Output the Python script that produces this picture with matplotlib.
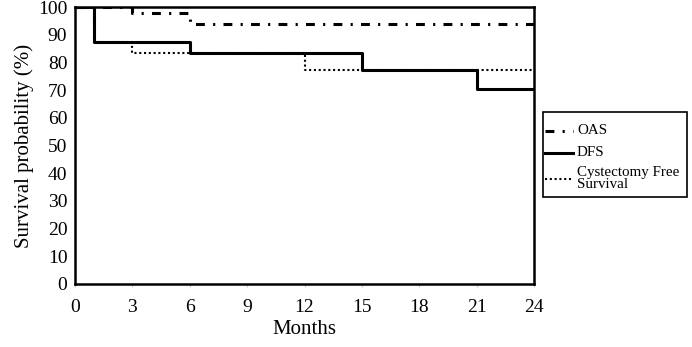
import numpy as np
import matplotlib
matplotlib.use("Agg")
from matplotlib import pyplot as plt
from matplotlib.lines import Line2D
from matplotlib.patches import Rectangle

# survival curves (months, % surviving)
oas_t = [0, 3, 6, 24]
oas_s = [100, 97.8, 93.9, 93.9]

dfs_t = [0, 1, 6, 15, 21, 24]
dfs_s = [100, 87.5, 83.5, 77.3, 70.5, 70.5]

cfs_t = [0, 1, 3, 12, 24]
cfs_s = [100, 87.5, 83.5, 77.3, 77.3]

xticks = [0, 3, 6, 9, 12, 15, 18, 21, 24]
yticks = [0, 10, 20, 30, 40, 50, 60, 70, 80, 90, 100]

labels = ['OAS', 'DFS', 'Cystectomy Free\nSurvival']

plt.rcParams['font.family'] = ['Liberation Serif', 'DejaVu Serif']

W, H = 692, 347
fig = plt.figure(figsize=(W / 100, H / 100), dpi=100)
ax = fig.add_axes([75 / W, 1 - 284 / H, (534 - 75) / W, (284 - 7) / H])

oas_style = dict(color='black', lw=2.2, dashes=(2.9, 2.7, 0.7, 2.7))
dfs_style = dict(color='black', lw=2.2)
cfs_style = dict(color='black', lw=1.5, dashes=(1, 1.3))

ax.step(oas_t, oas_s, where='post', **oas_style)
ax.step(dfs_t, dfs_s, where='post', **dfs_style)
ax.step(cfs_t, cfs_s, where='post', **cfs_style)

ax.set_xlim(0, 24)
ax.set_ylim(0, 100)
ax.set_xticks(xticks)
ax.set_yticks(yticks)
ax.tick_params(axis='y', labelsize=14, length=0, pad=5.5)
ax.tick_params(axis='x', labelsize=14, length=2, color='#cccccc',
               direction='out', pad=8.5)
for s in ax.spines.values():
    s.set_linewidth(1.8)

ax.set_xlabel('Months', fontsize=15, labelpad=3)
ax.set_ylabel('Survival probability (%)', fontsize=15, labelpad=3)

# legend box drawn by hand, outside the axes on the right
def fx(px):
    return px / W

def fy(py):
    return 1 - py / H

fig.add_artist(Rectangle((fx(543), fy(197)), fx(687) - fx(543),
                         fy(112) - fy(197), transform=fig.transFigure,
                         fill=False, edgecolor='black', lw=1.2))
styles = [oas_style, dfs_style, cfs_style]
rows = [131, 153, 179]
for lab, st, y in zip(labels, styles, rows):
    fig.add_artist(Line2D([fx(545), fx(573)], [fy(y), fy(y)],
                          transform=fig.transFigure, **st))
    fig.text(fx(577), fy(y), lab, fontsize=10.8, va='center', ha='left',
             linespacing=0.9)

fig.savefig('out.png', dpi=100)
